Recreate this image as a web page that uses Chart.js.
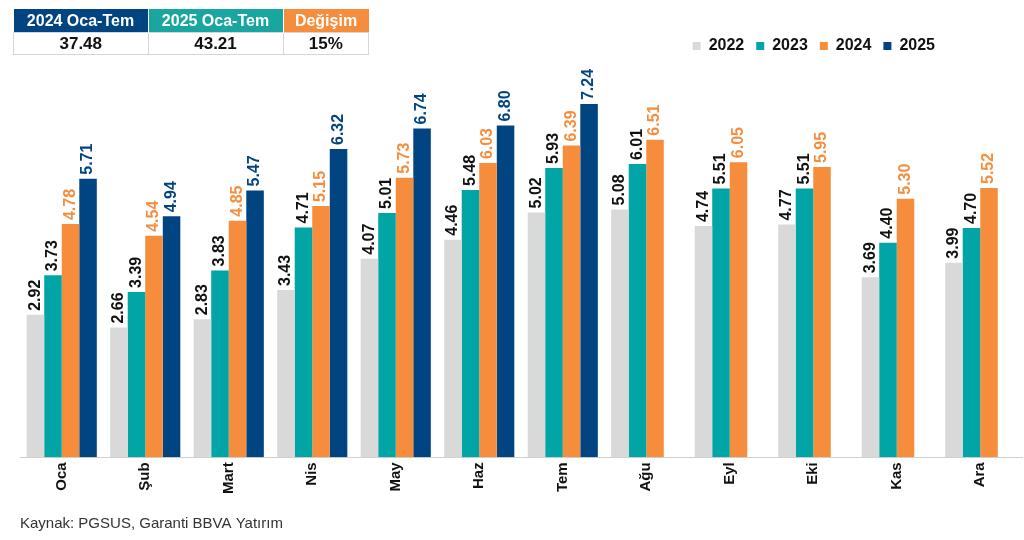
<!DOCTYPE html>
<html>
<head>
<meta charset="utf-8">
<script src="https://cdn.jsdelivr.net/npm/chart.js@4.4.1/dist/chart.umd.min.js"></script>
<style>
  html, body { margin: 0; padding: 0; background: #fff; }
  #wrap { position: relative; width: 1024px; height: 540px; }
  #summary { position: absolute; left: 13px; top: 9px; border-collapse: collapse; font-family: "Liberation Sans", Arial, sans-serif; }
  #summary th { color: #fff; font-size: 16px; font-weight: bold; height: 23px; padding: 0; text-align: center; }
  #summary td { font-size: 17px; font-weight: bold; color: #111; height: 21px; padding: 0; text-align: center; border: 1px solid #d6d6d6; }
</style>
</head>
<body>
<div id="wrap">
  <canvas id="getChart" width="1024" height="540"></canvas>
  <table id="summary"><tr id="hdr"></tr><tr id="val"></tr></table>
</div>
<script>
var months = ["Oca", "Şub", "Mart", "Nis", "May", "Haz", "Tem", "Ağu", "Eyl", "Eki", "Kas", "Ara"];
var v2022 = [2.92, 2.66, 2.83, 3.43, 4.07, 4.46, 5.02, 5.08, 4.74, 4.77, 3.69, 3.99];
var v2023 = [3.73, 3.39, 3.83, 4.71, 5.01, 5.48, 5.93, 6.01, 5.51, 5.51, 4.40, 4.70];
var v2024 = [4.78, 4.54, 4.85, 5.15, 5.73, 6.03, 6.39, 6.51, 6.05, 5.95, 5.30, 5.52];
var v2025 = [5.71, 4.94, 5.47, 6.32, 6.74, 6.80, 7.24, null, null, null, null, null];

var tableHeaders = ["2024 Oca-Tem", "2025 Oca-Tem", "Değişim"];
var tableValues = ["37.48", "43.21", "15%"];
var tableColors = ["#004481", "#1aa6a0", "#f68d3d"];
var tableWidths = [134, 134, 85];

// ozet tablo
var hdr = document.getElementById("hdr"), val = document.getElementById("val");
tableHeaders.forEach(function (h, i) {
    var th = document.createElement("th");
    th.textContent = h;
    th.style.background = tableColors[i];
    th.style.width = tableWidths[i] + "px";
    th.style.borderRight = i < 2 ? "1px solid #fff" : "none";
    hdr.appendChild(th);
    var td = document.createElement("td");
    td.textContent = tableValues[i];
    val.appendChild(td);
});

var FONT = "'Liberation Sans', Arial, sans-serif";
var labelColors = ["#111111", "#111111", "#f68d3d", "#004481"];

// bar ustu etiketler (dikey)
var valueLabels = {
    id: "valueLabels",
    afterDatasetsDraw: function (chart) {
        var ctx = chart.ctx;
        chart.data.datasets.forEach(function (ds, di) {
            var meta = chart.getDatasetMeta(di);
            meta.data.forEach(function (bar, i) {
                var v = ds.data[i];
                if (v === null || v === undefined) return;
                ctx.save();
                ctx.translate(bar.x, bar.y - 4);
                ctx.rotate(-Math.PI / 2);
                ctx.font = "bold 16px " + FONT;
                ctx.fillStyle = labelColors[di];
                ctx.textAlign = "left";
                ctx.textBaseline = "middle";
                ctx.fillText(v.toFixed(2), 0, 0);
                ctx.restore();
            });
        });
    }
};

// legend'i biraz sola ve yukari kaydir
var legendShift = {
    id: "legendShift",
    afterLayout: function (chart) {
        chart.legend.right -= 75;
        chart.legend.top -= 3;
        chart.legend.bottom -= 3;
    }
};

var ctx = document.getElementById("getChart");
var chart = new Chart(ctx, {
    type: "bar",
    data: {
        labels: months,
        datasets: [
            { label: "2022", data: v2022, backgroundColor: "#d9d9d9" },
            { label: "2023", data: v2023, backgroundColor: "#02a5a5" },
            { label: "2024", data: v2024, backgroundColor: "#f68d3d" },
            { label: "2025", data: v2025, backgroundColor: "#004481" }
        ]
    },
    options: {
        responsive: false,
        animation: false,
        layout: { padding: { top: 29, left: 20, right: 2, bottom: 4 } },
        datasets: { bar: { categoryPercentage: 0.84, barPercentage: 1.0, borderWidth: 0 } },
        scales: {
            x: {
                grid: { display: false, drawTicks: false },
                border: { display: true, color: "#d0d0d0", width: 1 },
                ticks: { color: "#111", font: { family: FONT, size: 15, weight: "bold" }, maxRotation: 90, minRotation: 90, padding: 5 }
            },
            y: {
                display: false,
                min: 0,
                max: 8
            }
        },
        plugins: {
            legend: {
                position: "top",
                align: "end",
                labels: { boxWidth: 8, boxHeight: 8, padding: 12, color: "#111", font: { family: FONT, size: 16, weight: "bold" } }
            },
            title: {
                display: true,
                position: "bottom",
                align: "start",
                text: "Kaynak: PGSUS, Garanti BBVA Yatırım",
                color: "#333",
                font: { family: FONT, size: 15, weight: "normal" },
                padding: { top: 16, bottom: 3 }
            },
            tooltip: { enabled: false }
        }
    },
    plugins: [valueLabels, legendShift]
});
</script>
</body>
</html>
